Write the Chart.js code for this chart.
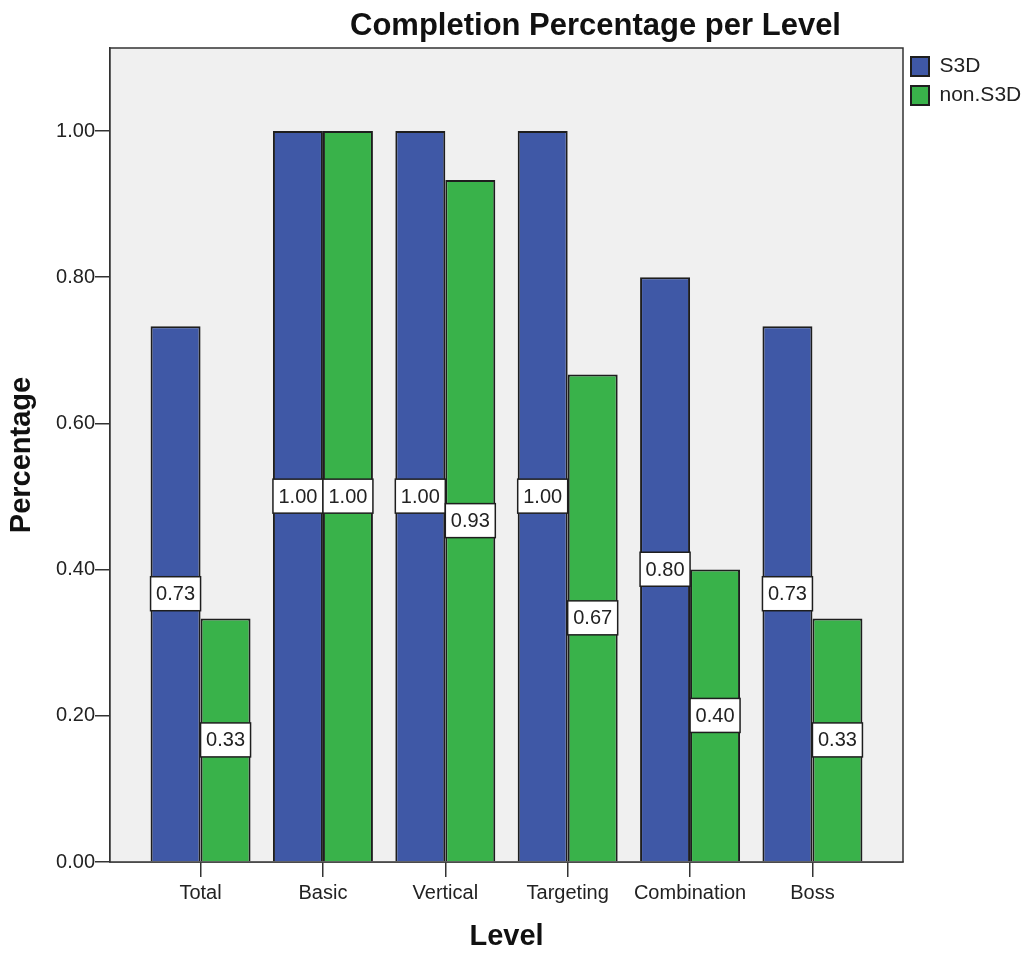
<!DOCTYPE html>
<html>
<head>
<meta charset="utf-8">
<script src="https://cdn.jsdelivr.net/npm/chart.js@4.4.0/dist/chart.umd.min.js"></script>
<style>
  body { margin: 0; background: #fff; }
  canvas { display: block; }
</style>
</head>
<body>
<canvas id="grafico" width="1022" height="954"></canvas>
<script>
// datos
const niveles = ['Total', 'Basic', 'Vertical', 'Targeting', 'Combination', 'Boss'];
const s3d = [0.733, 1.00, 1.00, 1.00, 0.80, 0.733];
const nonS3d = [0.333, 1.00, 0.933, 0.667, 0.40, 0.333];
const ticksY = [0, 0.2, 0.4, 0.6, 0.8, 1.0];

const fuente = "'Liberation Sans', Arial, sans-serif";
const azul = '#3f58a6';
const verde = '#39b24a';
const borde = '#1e1e1e';

// fondo gris y marco del area del grafico
const marcoPlugin = {
    id: 'marco',
    beforeDatasetsDraw(chart) {
        const { ctx, chartArea: a } = chart;
        ctx.save();
        ctx.fillStyle = '#f0f0f0';
        ctx.fillRect(a.left, a.top, a.right - a.left, a.bottom - a.top);
        ctx.strokeStyle = '#333';
        ctx.lineWidth = 1.5;
        ctx.strokeRect(a.left, a.top, a.right - a.left, a.bottom - a.top);
        ctx.restore();
    }
};

// titulo principal
const tituloPlugin = {
    id: 'titulo',
    afterDraw(chart) {
        const { ctx, chartArea: a } = chart;
        ctx.save();
        ctx.font = 'bold 31px ' + fuente;
        ctx.fillStyle = '#111';
        ctx.textAlign = 'center';
        ctx.textBaseline = 'middle';
        ctx.fillText('Completion Percentage per Level', (a.left + a.right) / 2 + 89, a.top - 22);
        ctx.restore();
    }
};

// etiquetas blancas en el medio de cada barra
const etiquetasPlugin = {
    id: 'etiquetas',
    afterDatasetsDraw(chart) {
        const { ctx } = chart;
        ctx.save();
        ctx.font = '20px ' + fuente;
        ctx.textAlign = 'center';
        ctx.textBaseline = 'middle';
        chart.data.datasets.forEach((ds, d) => {
            chart.getDatasetMeta(d).data.forEach((bar, i) => {
                const p = bar.getProps(['x', 'y', 'base', 'width'], true);
                const cy = (p.y + p.base) / 2;
                const h = 34;
                ctx.fillStyle = '#fff';
                ctx.fillRect(p.x - p.width / 2, cy - h / 2, p.width, h);
                ctx.strokeStyle = borde;
                ctx.lineWidth = 1.5;
                ctx.strokeRect(p.x - p.width / 2, cy - h / 2, p.width, h);
                ctx.fillStyle = '#222';
                ctx.fillText(ds.valores[i].toFixed(2), p.x, cy + 1);
            });
        });
        ctx.restore();
    }
};

new Chart(document.getElementById('grafico'), {
    type: 'bar',
    data: {
        datasets: [
            {
                label: 'S3D',
                valores: s3d,
                data: s3d.map((v, i) => ({ x: i, y: v })),
                backgroundColor: azul,
                borderColor: borde,
                borderWidth: 2
            },
            {
                label: 'non.S3D',
                valores: nonS3d,
                data: nonS3d.map((v, i) => ({ x: i, y: v })),
                backgroundColor: verde,
                borderColor: borde,
                borderWidth: 2
            }
        ]
    },
    options: {
        responsive: false,
        animation: false,
        categoryPercentage: 0.817,
        barPercentage: 1.0,
        layout: { padding: { top: 48, left: 0, right: 0, bottom: 0 } },
        plugins: {
            tooltip: { enabled: false },
            legend: {
                position: 'right',
                align: 'start',
                maxWidth: 119,
                labels: {
                    boxWidth: 18,
                    boxHeight: 19,
                    padding: 8,
                    color: '#222',
                    font: { family: fuente, size: 21 }
                }
            }
        },
        scales: {
            x: {
                type: 'linear',
                min: -0.74,
                max: 5.74,
                offset: false,
                afterBuildTicks(scale) {
                    scale.ticks = niveles.map((_, i) => ({ value: i }));
                },
                afterFit(scale) { scale.height = 92; },
                grid: {
                    offset: false,
                    drawOnChartArea: false,
                    drawTicks: true,
                    tickLength: 15,
                    color: '#333',
                    lineWidth: 1.5
                },
                border: { display: true, color: '#333', width: 1.5 },
                ticks: {
                    autoSkip: false,
                    maxRotation: 0,
                    padding: 4,
                    color: '#222',
                    font: { family: fuente, size: 20 },
                    callback: (v) => niveles[v]
                },
                title: {
                    display: true,
                    text: 'Level',
                    color: '#111',
                    font: { family: fuente, size: 29, weight: 'bold' },
                    padding: { top: 0, bottom: 0 }
                }
            },
            y: {
                min: 0,
                max: 1.1136,
                afterBuildTicks(scale) {
                    scale.ticks = ticksY.map(v => ({ value: v }));
                },
                afterFit(scale) { scale.width = 110; },
                grid: {
                    drawOnChartArea: false,
                    drawTicks: true,
                    tickLength: 15,
                    color: '#333',
                    lineWidth: 1.5
                },
                border: { display: true, color: '#333', width: 1.5 },
                ticks: {
                    padding: 0,
                    color: '#222',
                    font: { family: fuente, size: 20 },
                    callback: (v) => v.toFixed(2)
                },
                title: {
                    display: true,
                    text: 'Percentage',
                    color: '#111',
                    font: { family: fuente, size: 29, weight: 'bold' },
                    padding: { top: 5, bottom: 0 }
                }
            }
        }
    },
    plugins: [marcoPlugin, etiquetasPlugin, tituloPlugin]
});
</script>
</body>
</html>
